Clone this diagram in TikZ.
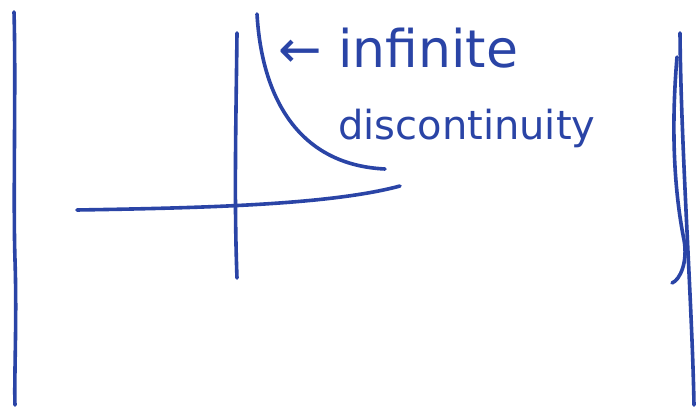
\documentclass[tikz,border=0pt]{standalone}
\usepackage{fontspec}
\setmainfont{DejaVu Sans}
\definecolor{ink}{HTML}{2A44A6}
\tikzset{pen/.style={draw=ink, line width=3.6pt, line cap=round, line join=round},
  hand/.style={text=ink, inner sep=0pt, anchor=base west}}
\begin{document}
\begin{tikzpicture}[x=1pt,y=-1pt]
\useasboundingbox[fill=white] (0,0) rectangle (696,411);
% left border line
\coordinate (l1) at (14,12); \coordinate (l2) at (15,405);
\draw[pen] (l1) .. controls (16,80) and (13,200) .. (15,260) .. controls (17,320) and (14,380) .. (l2);
% right border lines
\coordinate (r1) at (680,33); \coordinate (r2) at (694,405);
\draw[pen] (r1) .. controls (681,150) and (692,300) .. (r2);
\coordinate (r3) at (677,57); \coordinate (r4) at (672,283);
\draw[pen] (r3) .. controls (670,140) and (676,200) .. (684,240) .. controls (688,262) and (680,280) .. (r4);
% axes
\coordinate (xa) at (77,210); \coordinate (xb) at (400,186);
\draw[pen] (xa) .. controls (200,208) and (330,205) .. (xb);
\coordinate (ya) at (237,33); \coordinate (yb) at (237,278);
\draw[pen] (ya) .. controls (236,120) and (234,200) .. (yb);
% curve
\coordinate (ca) at (257,14); \coordinate (cb) at (385,169);
\draw[pen] (ca) .. controls (262,100) and (300,165) .. (cb);
% labels
\node[hand, font=\fontsize{52}{52}\selectfont] (t1) at (278,68) {← infinite};
\node[hand, font=\fontsize{40}{40}\selectfont] (t2) at (338,140) {discontinuity};
\end{tikzpicture}
\end{document}
